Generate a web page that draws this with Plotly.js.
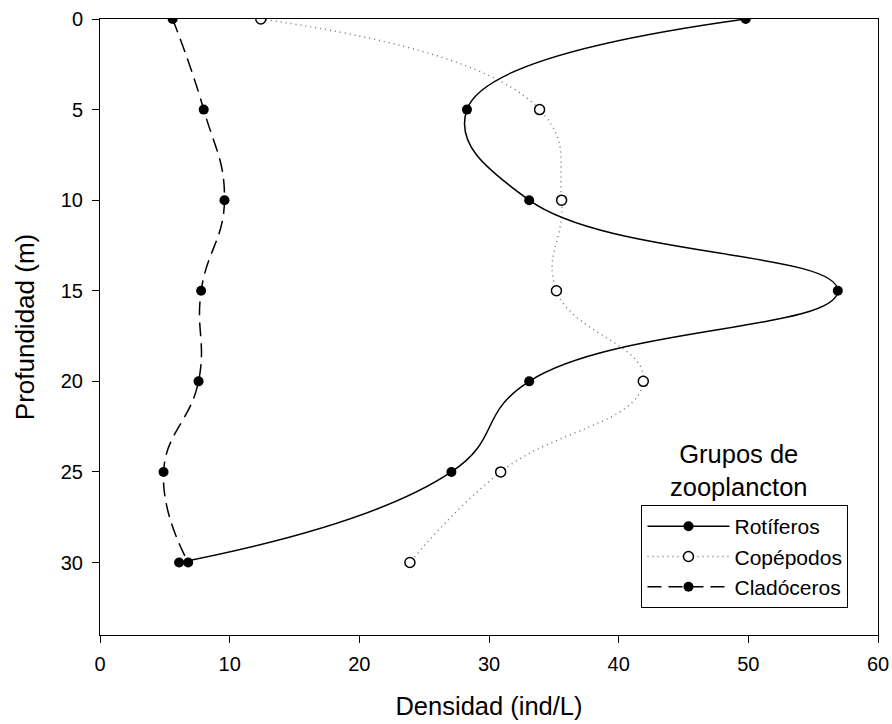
<!DOCTYPE html>
<html>
<head>
<meta charset="utf-8">
<script src="https://cdn.plot.ly/plotly-3.0.1.min.js"></script>
<style>html,body{margin:0;padding:0;background:#fff;}#chart{width:892px;height:724px;}</style>
</head>
<body>
<div id="chart"></div>
<script>
const depth = [0, 5, 10, 15, 20, 25, 30];
const rotiferos = [49.8, 28.3, 33.1, 56.9, 33.1, 27.1, 6.1];
const copepodos = [12.4, 33.9, 35.6, 35.2, 41.9, 30.9, 23.9];
const cladoceros = [5.6, 8.0, 9.6, 7.8, 7.6, 4.9, 6.8];
const xTicks = [0, 10, 20, 30, 40, 50, 60];
const yTicks = [0, 5, 10, 15, 20, 25, 30];

const F = 'Liberation Sans, Arial, sans-serif';

const traces = [
  {
    x: cladoceros, y: depth, name: 'Cladóceros', mode: 'lines+markers',
    line: {shape: 'spline', smoothing: 1.3, color: '#000', width: 1.5, dash: '14px,7px'},
    marker: {symbol: 'circle', size: 10, color: '#000'}
  },
  {
    x: copepodos, y: depth, name: 'Copépodos', mode: 'lines+markers',
    line: {shape: 'spline', smoothing: 1.3, color: '#777', width: 1.5, dash: '1px,4px'},
    marker: {symbol: 'circle', size: 10, color: '#fff', line: {color: '#000', width: 1.5}}
  },
  {
    x: rotiferos, y: depth, name: 'Rotíferos', mode: 'lines+markers',
    line: {shape: 'spline', smoothing: 1.3, color: '#000', width: 1.5},
    marker: {symbol: 'circle', size: 10, color: '#000'}
  }
];

const layout = {
  width: 892, height: 724,
  margin: {l: 100, r: 14, t: 19, b: 89},
  paper_bgcolor: '#fff', plot_bgcolor: '#fff',
  font: {family: F, size: 20, color: '#000'},
  showlegend: true,
  legend: {
    x: 0.696, y: 0.211, xanchor: 'left', yanchor: 'top',
    bordercolor: '#000', borderwidth: 1, bgcolor: '#fff',
    font: {family: F, size: 21, color: '#000'},
    traceorder: 'reversed', itemwidth: 82
  },
  xaxis: {
    range: [0, 60], tickvals: xTicks, ticktext: xTicks.map(String),
    showgrid: false, zeroline: false,
    showline: true, linecolor: '#000', linewidth: 1, mirror: true,
    ticks: 'outside', ticklen: 7, tickcolor: '#000', tickwidth: 1,
    ticklabelstandoff: 4,
    tickfont: {family: F, size: 20},
    title: {text: 'Densidad (ind/L)', font: {family: F, size: 25.5}, standoff: 23}
  },
  yaxis: {
    range: [34, 0], tickvals: yTicks, ticktext: yTicks.map(String),
    showgrid: false, zeroline: false,
    showline: true, linecolor: '#000', linewidth: 1, mirror: true,
    ticks: 'outside', ticklen: 7, tickcolor: '#000', tickwidth: 1,
    ticklabelstandoff: 5,
    tickfont: {family: F, size: 20},
    title: {text: 'Profundidad (m)', font: {family: F, size: 26}, standoff: 18}
  },
  annotations: [
    {
      text: 'Grupos de<br>zooplancton', xref: 'paper', yref: 'paper',
      x: 0.821, y: 0.214, xanchor: 'center', yanchor: 'bottom',
      showarrow: false, align: 'center',
      font: {family: F, size: 25.5, color: '#000'}
    }
  ]
};

Plotly.newPlot('chart', traces, layout, {displayModeBar: false, staticPlot: true});
</script>
</body>
</html>
